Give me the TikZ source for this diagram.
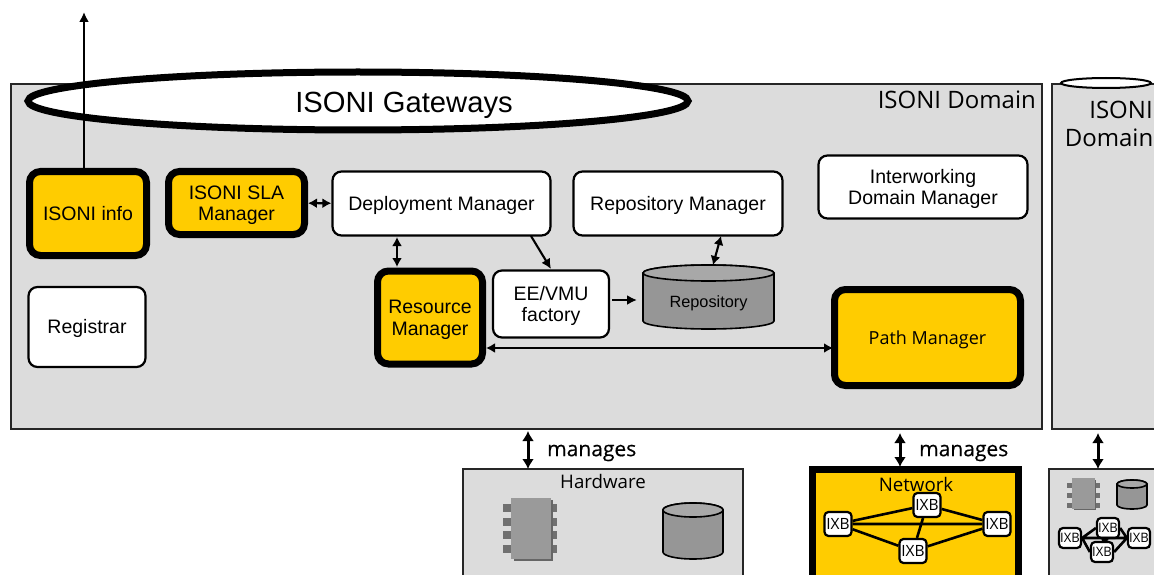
\documentclass[tikz,border=0pt]{standalone}
\usepackage{fontspec}
\setmainfont{Liberation Sans}
\newfontfamily\tah{Open Sans}
\newfontfamily\tahb[FakeBold=0.35]{Open Sans}
\usetikzlibrary{arrows.meta,shapes.geometric,calc}
\definecolor{panel}{HTML}{DCDCDC}
\definecolor{gold}{HTML}{FFCC00}
\definecolor{cylgray}{HTML}{969696}
\definecolor{cyltop}{HTML}{A8A8A8}
\definecolor{chipgray}{HTML}{9A9A9A}
\definecolor{leggray}{HTML}{707070}
\newcommand{\dn}[1]{\raisebox{-2.6pt}[\height][\depth]{\begin{tabular}{@{}c@{}}#1\end{tabular}}}
\tikzset{
  x=1pt,y=-1pt,
  panelbox/.style={draw=black!85,line width=1.6pt,fill=panel,inner sep=0,anchor=north west},
  wbox/.style={draw=black,line width=2.2pt,fill=white,rounded corners=9pt,align=center,inner sep=0,font=\fontsize{19.5}{21}\selectfont},
  gbox/.style={draw=black,line width=7pt,fill=gold,rounded corners=11pt,align=center,inner sep=0,font=\fontsize{19.5}{21.5}\selectfont},
  ixb/.style={draw=black,line width=2.2pt,fill=white,rounded corners=4pt,inner sep=0,minimum width=27pt,minimum height=24pt,font=\tah\fontsize{15.5}{15}\selectfont},
  ixbs/.style={ixb,minimum width=22pt,minimum height=20pt,font=\tah\fontsize{13}{13}\selectfont},
  link/.style={line width=2.1pt,-{Latex[length=10pt,width=10pt]}},
  dlink/.style={line width=2.1pt,{Latex[length=9pt,width=10pt]}-{Latex[length=9pt,width=10pt]}},
  mlink/.style={line width=3pt,{Latex[length=10pt,width=12pt]}-{Latex[length=10pt,width=12pt]}},
  wire/.style={draw=black,line width=2.6pt},
  cylbody/.style={draw=black,line width=1.6pt,fill=cylgray},
  cyltopf/.style={draw=black,line width=1.6pt,fill=cyltop},
  cylarea/.style={inner sep=0,font=\fontsize{16.3}{18}\selectfont},
  chipbody/.style={fill=chipgray,draw=none},
  chipleg/.style={fill=leggray,draw=none},
  mantext/.style={font=\tahb\fontsize{21}{24}\selectfont,text=black,inner sep=0},
  titletext/.style={font=\tah\fontsize{24}{28}\selectfont,text=black,inner sep=0,align=center}
}
% name, cx, half width, top y, height, ry, text
\newcommand{\mycyl}[7]{%
  \draw[cylbody] ({#2-#3},{#4+#6}) -- ({#2-#3},{#4+#5-#6}) arc[start angle=180,end angle=360,x radius=#3,y radius=-#6] -- ({#2+#3},{#4+#6}) arc[start angle=0,end angle=180,x radius=#3,y radius=-#6] -- cycle;
  \draw[cyltopf] (#2,{#4+#6}) ellipse[x radius=#3,y radius=#6];
  \node[cylarea] (#1) at (#2,{#4+#5/2+6}) {#7};
}
\begin{document}
\begin{tikzpicture}
\useasboundingbox (0,0) rectangle (1154,575);
\clip (0,0) rectangle (1154,575);
% panels
\node[panelbox,minimum width=1031pt,minimum height=345pt] (dom) at (10.2,83.2) {};
\node[panelbox,minimum width=120pt,minimum height=345pt] (dom2) at (1051.2,83.2) {};
\node[panelbox,minimum width=280pt,minimum height=120pt] (hw) at (462.2,468.2) {};
\node[draw=black,line width=7pt,fill=gold,minimum width=206pt,minimum height=120pt,inner sep=0,anchor=north west] (net) at (809,466) {};
\node[panelbox,minimum width=120pt,minimum height=120pt] (hw2) at (1048.2,468.2) {};
% gateways
\node[draw=black,line width=7pt,fill=white,ellipse,minimum width=660pt,minimum height=58pt,inner sep=0,font=\fontsize{29.2}{30}\selectfont] (gw) at (358,101) {\hspace*{92pt}\raisebox{-4.5pt}[\height][\depth]{ISONI Gateways}};
\node[draw=black,line width=2pt,fill=white,ellipse,minimum width=90pt,minimum height=10pt,inner sep=0] (gw2) at (1106,83) {};
\node[titletext,anchor=north east] (domt) at (1036,91) {ISONI Domain};
\node[titletext,anchor=north] (dom2t) at (1109,101) {\hspace*{24pt}ISONI\\Domain};
% boxes
\node[gbox,minimum width=117pt,minimum height=84pt] (info) at (88,213.5) {ISONI info};
\node[gbox,minimum width=136pt,minimum height=63pt] (sla) at (236.5,203) {\dn{ISONI SLA\\Manager}};
\node[wbox,minimum width=218pt,minimum height=64pt] (dm) at (441.5,203.5) {\dn{Deployment Manager}};
\node[wbox,minimum width=209pt,minimum height=64pt] (rm) at (678,203.5) {\dn{Repository Manager}};
\node[wbox,minimum width=209pt,minimum height=63pt] (iw) at (923,187) {\dn{Interworking\\Domain Manager}};
\node[wbox,minimum width=117pt,minimum height=80pt] (reg) at (87,327) {\dn{Registrar}};
\node[gbox,minimum width=105pt,minimum height=93pt] (res) at (430,317.5) {\dn{Resource\\Manager}};
\node[wbox,minimum width=116pt,minimum height=67pt] (ee) at (551,304) {\dn{EE/VMU\\factory}};
\mycyl{repo}{708.5}{65.5}{265}{64}{8}{Repository}
\node[gbox,minimum width=186pt,minimum height=96pt,font=\tah\fontsize{18}{21}\selectfont] (path) at (927.5,337.5) {\dn{Path Manager}};
% free ends
\coordinate (upend) at (84,12);
\coordinate (infotop) at (84,168);
\coordinate (dmb) at (397,237);
\coordinate (rest) at (397,267);
\coordinate (dmf) at (531,236);
\coordinate (eet) at (551,269);
\coordinate (rmb) at (721,236);
\coordinate (repot) at (713,265);
\coordinate (eer) at (612,300);
\coordinate (repol) at (637,300);
\coordinate (resr) at (486,348);
\coordinate (pathl) at (833,348);
\coordinate (m1a) at (528,431);
\coordinate (m1b) at (528,469);
\coordinate (m2a) at (900,433);
\coordinate (m2b) at (900,467);
\coordinate (m3a) at (1098,433);
\coordinate (m3b) at (1098,469);
% connectors
\draw[link] (infotop) -- (upend);
\draw[dlink] (sla) -- (dm);
\draw[dlink] (dmb) -- (rest);
\draw[link] (dmf) -- (eet);
\draw[dlink] (rmb) -- (repot);
\draw[link] (eer) -- (repol);
\draw[dlink] (resr) -- (pathl);
\draw[mlink] (m1a) -- (m1b);
\draw[mlink] (m2a) -- (m2b);
\draw[mlink] (m3a) -- (m3b);
\node[mantext,anchor=west] (man1) at (547,453) {manages};
\node[mantext,anchor=west] (man2) at (919,453) {manages};
% hardware contents
\node[font=\tah\fontsize{18.7}{20}\selectfont,text=black,inner sep=0] (hwt) at (603,481) {Hardware};
\foreach \yy in {504,518,531,545}{
  \fill[chipleg] (503,\yy) rectangle (512,\yy+8);
  \fill[chipleg] (551,\yy) rectangle (557,\yy+8);
}
\fill[black!60] (514,500) rectangle (553,561);
\fill[chipbody] (511,498) rectangle (551,559);
\mycyl{hwcyl}{693}{30}{503}{56}{7}{}
% network contents
\node[font=\tah\fontsize{18.7}{20}\selectfont,text=black,inner sep=0] (nett) at (916,484) {Network};
\node[ixb] (x1) at (838,524) {IXB};
\node[ixb] (x2) at (927,505) {IXB};
\node[ixb] (x3) at (997,524) {IXB};
\node[ixb] (x4) at (913,551) {IXB};
\draw[wire] (x1) -- (x2) (x1) -- (x3) (x1) -- (x4) (x2) -- (x3) (x2) -- (x4) (x4) -- (x3);
% right hardware
\foreach \yy in {483,493,503}{
  \fill[chipleg] (1067,\yy) rectangle (1072,\yy+5);
  \fill[chipleg] (1095,\yy) rectangle (1100,\yy+5);
}
\fill[black!60] (1074,480) rectangle (1096,510);
\fill[chipbody] (1072,478) rectangle (1095,509);
\mycyl{hwcyl2}{1132}{15}{480}{29}{4}{}
\node[ixbs] (y1) at (1070,538) {IXB};
\node[ixbs] (y2) at (1108,528) {IXB};
\node[ixbs] (y3) at (1139,538) {IXB};
\node[ixbs] (y4) at (1102,552) {IXB};
\draw[wire] (y1.east) -- (y2.west) (y1.east) -- (y3.west) (y1.east) -- (y4.west) (y2.east) -- (y3.west) (y2.south) -- (y4.north) (y4.east) -- (y3.west);
\end{tikzpicture}
\end{document}
